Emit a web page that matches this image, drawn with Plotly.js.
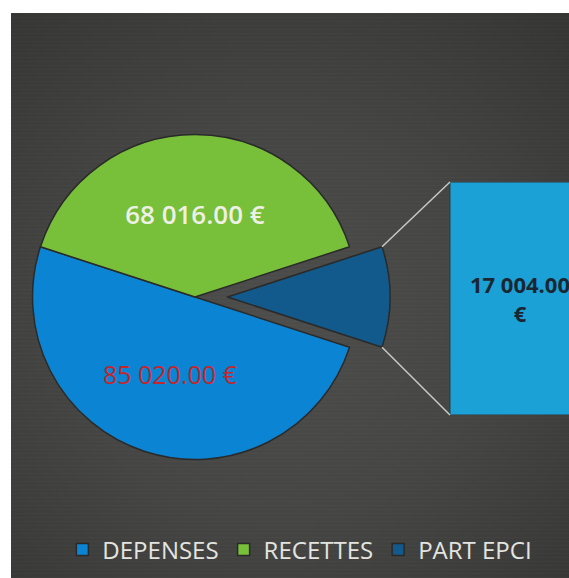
<!DOCTYPE html>
<html><head><meta charset="utf-8">
<script src="https://cdn.plot.ly/plotly-3.0.1.min.js"></script>
<style>
html,body{margin:0;padding:0;background:#fff;}
#wrap{position:relative;width:569px;height:578px;overflow:hidden;background:#fff;}
#bg{position:absolute;left:11px;top:13px;right:0;bottom:0;
  background:
   repeating-linear-gradient(0deg, rgba(255,255,255,0.02) 0px, rgba(255,255,255,0.02) 1px, rgba(0,0,0,0) 1px, rgba(0,0,0,0) 4px),
   radial-gradient(ellipse 75% 70% at 48% 55%, #4d4e4b 0%, #454643 50%, #363735 100%);}
#chart{position:absolute;left:0;top:0;width:569px;height:578px;}
</style></head><body>
<div id="wrap"><div id="bg"></div><div id="chart"></div></div>
<script>
// ---- data ----
const labels = ['DEPENSES', 'RECETTES', 'PART EPCI'];
const values = [85020, 68016, 17004];
const barLabels = ['PART EPCI'];
const barValues = [17004];

// ---- styles ----
const sliceColors = ['#0b84d4', '#78bf3a', '#135a8c'];
const labelColors = ['#c3262b', '#eef0e6', '#1b2633'];
const barColor = '#1ba1d5';

const W = 569, H = 578;
const total = values.reduce((a, b) => a + b, 0);
const pull = 0.2;
const pieCx = 195, pieCy = 297, pieHalf = 195;
const pieDomainX = [(pieCx - pieHalf) / W, (pieCx + pieHalf) / W];
const pieDomainY = [1 - (pieCy + pieHalf) / H, 1 - (pieCy - pieHalf) / H];
// last slice centred on the right-hand side (90deg clockwise from top)
const rotation = 90 + 180 * values[2] / total;

// secondary bar geometry (pixels)
const barLeftPx = 450, barRightPx = 590, barTopPx = 182, barBottomPx = 415;
const xDom = [0.7, 1];
const pxPerUnit = barRightPx - barLeftPx; // bar width = 1 unit
const xStartPx = xDom[0] * W;
const xr0 = -0.5 - (barLeftPx - xStartPx) / pxPerUnit;
const xr1 = xr0 + (xDom[1] - xDom[0]) * W / pxPerUnit;
const yDom = [(H - barBottomPx) / H, (H - barTopPx) / H];
const barTotal = barValues.reduce((a, b) => a + b, 0);

// connector lines from the pulled slice corners to the bar
const r = pieHalf / (1 + pull);
const deg = Math.PI / 180;
const a1 = rotation + 360 * (values[0] + values[1]) / total;
const a2 = a1 + 360 * values[2] / total;
const mid = (a1 + a2) / 2;
const offX = pull * r * Math.sin(mid * deg), offY = -pull * r * Math.cos(mid * deg);
function corner(a) {
  return [pieCx + offX + r * Math.sin(a * deg), pieCy + offY - r * Math.cos(a * deg)];
}
const c1 = corner(a1), c2 = corner(a2);
const lineStyle = {color: '#c9c9c4', width: 1.5};
const shapes = [
  {type: 'line', xref: 'paper', yref: 'paper', x0: c1[0] / W, y0: 1 - c1[1] / H, x1: barLeftPx / W, y1: 1 - barTopPx / H, line: lineStyle},
  {type: 'line', xref: 'paper', yref: 'paper', x0: c2[0] / W, y0: 1 - c2[1] / H, x1: barLeftPx / W, y1: 1 - barBottomPx / H, line: lineStyle}
];

const pie = {
  type: 'pie',
  labels: labels,
  values: values,
  sort: false,
  direction: 'clockwise',
  rotation: rotation,
  pull: [0, 0, pull],
  domain: {x: pieDomainX, y: pieDomainY},
  marker: {colors: sliceColors, line: {color: '#2a2a2a', width: 1.5}},
  texttemplate: ['%{value:,.2f} €', '%{value:,.2f} €', ''],
  textposition: 'inside',
  insidetextorientation: 'horizontal',
  insidetextfont: {family: 'Open Sans', size: [25, 26, 12], color: labelColors, weight: [500, 600, 400]},
  hoverinfo: 'none',
  showlegend: true
};

const bar = {
  type: 'bar',
  x: barLabels,
  y: barValues,
  width: 1,
  xaxis: 'x', yaxis: 'y',
  marker: {color: barColor, line: {color: '#2e3a40', width: 1}},
  texttemplate: '%{y:,.2f}<br>€',
  textposition: 'inside',
  insidetextanchor: 'middle',
  textangle: 0,
  constraintext: 'none',
  textfont: {family: 'Open Sans', size: 22, color: '#1b2633', weight: 700},
  hoverinfo: 'none',
  showlegend: false
};

const layout = {
  width: W, height: H,
  margin: {l: 0, r: 0, t: 0, b: 0},
  paper_bgcolor: 'rgba(0,0,0,0)',
  plot_bgcolor: 'rgba(0,0,0,0)',
  separators: '. ',
  xaxis: {domain: xDom, range: [xr0, xr1], visible: false, type: 'category', fixedrange: true},
  yaxis: {domain: yDom, range: [0, barTotal], visible: false, fixedrange: true},
  showlegend: true,
  legend: {
    orientation: 'h', x: 0.527, xanchor: 'center', y: 1 - 550 / H, yanchor: 'middle',
    font: {family: 'Open Sans', size: 24, color: '#e4e4e0'},
    bgcolor: 'rgba(0,0,0,0)', traceorder: 'normal'
  },
  shapes: shapes
};

Plotly.newPlot('chart', [pie, bar], layout, {displayModeBar: false, staticPlot: true});
</script>
</body></html>
